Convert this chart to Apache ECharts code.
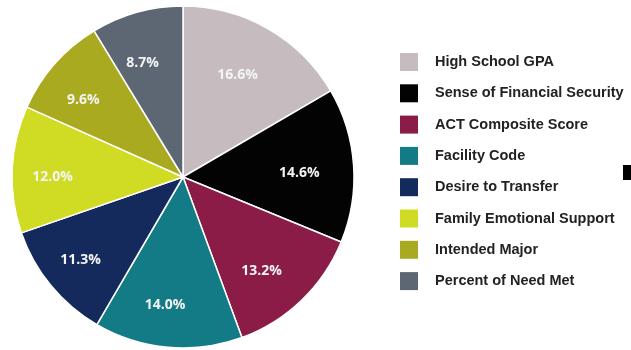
<!DOCTYPE html>
<html><head><meta charset="utf-8">
<script src="https://cdn.jsdelivr.net/npm/echarts@6/dist/echarts.min.js"></script>
<style>html,body{margin:0;padding:0;background:#fff}#c{width:631px;height:350px}</style>
</head><body><div id="c"></div>
<script>
var categories = ["High School GPA","Sense of Financial Security","ACT Composite Score","Facility Code","Desire to Transfer","Family Emotional Support","Intended Major","Percent of Need Met"];
var values = [16.6,14.6,13.2,14.0,11.3,12.0,9.6,8.7];
var colors = ["#c6bcbf","#030303","#8a1c47","#127b86","#142a5c","#cfdc23","#a9aa20","#5c6773"];

var chart = echarts.init(document.getElementById('c'), null, {renderer:'canvas'});
var data = categories.map(function(n,i){return {name:n, value:values[i], itemStyle:{color:colors[i]}};});
var labelData = categories.map(function(n,i){return {name:n, value:values[i]};});
chart.setOption({
  animation:false,
  legend:{
    orient:'vertical', left:400, top:53, padding:0, itemWidth:18, itemHeight:18, itemGap:13.3,
    icon:'rect',
    itemStyle:{borderWidth:0},
    data:categories,
    textStyle:{fontFamily:'Liberation Sans, Arial, sans-serif', fontWeight:'bold', fontSize:14.5, lineHeight:18, color:'#222222', padding:[0,0,0,12]}
  },
  graphic:[{type:'rect', shape:{x:623,y:165,width:10,height:15}, style:{fill:'#000'}}],
  series:[{
    type:'pie', center:[183,177], radius:[0,171], startAngle:90, clockwise:true, silent:true,
    itemStyle:{borderColor:'#ffffff', borderWidth:1.5},
    label:{show:false}, labelLine:{show:false},
    data:data
  },{
    type:'pie', center:[176,182], radius:[68,173], startAngle:90, clockwise:true, silent:true,
    legendHoverLink:false,
    itemStyle:{color:'rgba(0,0,0,0)', borderWidth:0},
    label:{show:true, position:'inside', formatter:function(p){return p.value.toFixed(1)+'%';},
      color:'#f4f4f4', fontFamily:'Open Sans, Liberation Sans, sans-serif', fontWeight:'bold', fontSize:14},
    labelLine:{show:false},
    data:labelData
  }]
});
</script></body></html>
